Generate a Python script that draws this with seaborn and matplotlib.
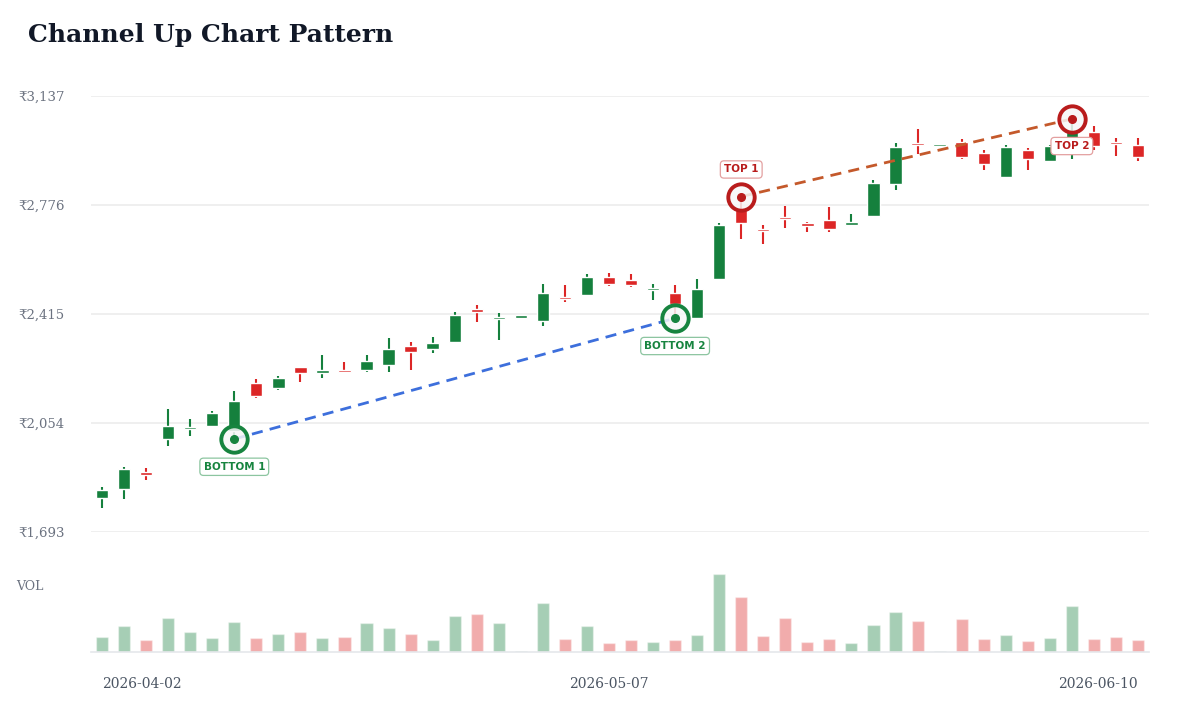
import matplotlib
matplotlib.use("Agg")
import matplotlib.pyplot as plt
import numpy as np
import pandas as pd
import seaborn as sns

# ——— Data ———
opens = [1807, 1838, 1887, 2001, 2034, 2045, 2030, 2187, 2171, 2240, 2222, 2231,
         2231, 2246, 2310, 2301, 2323, 2429, 2398, 2404, 2392, 2471, 2478, 2540,
         2528, 2495, 2487, 2403, 2531, 2759, 2699, 2736, 2716, 2727, 2712, 2741,
         2847, 2981, 2971, 2986, 2948, 2871, 2959, 2922, 2975, 3019, 2986, 2977]
highs = [1842, 1908, 1904, 2100, 2067, 2094, 2160, 2200, 2211, 2240, 2279, 2257,
         2279, 2335, 2321, 2339, 2421, 2445, 2418, 2406, 2515, 2511, 2547, 2551,
         2549, 2513, 2511, 2531, 2716, 2804, 2710, 2774, 2719, 2769, 2745, 2858,
         2981, 3028, 2973, 2995, 2957, 2975, 2966, 2974, 3061, 3039, 2999, 2997]
lows = [1772, 1802, 1866, 1977, 2012, 2041, 2001, 2138, 2162, 2189, 2204, 2223,
        2224, 2222, 2229, 2286, 2323, 2390, 2330, 2403, 2376, 2454, 2476, 2507,
        2503, 2460, 2401, 2402, 2530, 2663, 2648, 2699, 2688, 2686, 2710, 2740,
        2827, 2946, 2970, 2928, 2893, 2869, 2891, 2921, 2930, 2959, 2937, 2922]
closes = [1833, 1902, 1884, 2045, 2038, 2087, 2129, 2144, 2204, 2220, 2229, 2224,
          2259, 2299, 2290, 2321, 2412, 2423, 2407, 2405, 2485, 2465, 2540, 2515,
          2511, 2501, 2448, 2498, 2712, 2719, 2690, 2730, 2707, 2699, 2719, 2849,
          2970, 2975, 2972, 2937, 2913, 2968, 2928, 2972, 3020, 2972, 2979, 2935]
volumes = [147, 257, 123, 340, 200, 137, 303, 143, 177, 197, 143, 147,
           287, 237, 183, 117, 357, 380, 287, 7, 493, 133, 257, 90,
           120, 103, 117, 167, 777, 547, 163, 343, 97, 130, 90, 267,
           397, 310, 5, 327, 130, 167, 110, 140, 460, 133, 150, 117]

price_ticks = [1693, 2054, 2415, 2776, 3137]
date_tick_idx = [0, 23, 47]
date_tick_labels = ["2026-04-02", "2026-05-07", "2026-06-10"]

bottoms = [6, 26]
bottom_labels = ["BOTTOM 1", "BOTTOM 2"]
tops = [29, 44]
top_labels = ["TOP 1", "TOP 2"]

# ——— Style ———
UP = "#15803d"
DOWN = "#dc2626"
RING_UP = "#17843f"
RING_DOWN = "#b91c1c"

sns.set_theme(style="white")
plt.rcParams['font.family'] = ['DejaVu Serif', 'DejaVu Sans']

o = np.array(opens)
c = np.array(closes)
idx = np.arange(len(o))
direction = np.where(c >= o, "up", "down")
colors = [UP if d == "up" else DOWN for d in direction]

fig = plt.figure(figsize=(12, 7.2), dpi=100)
ax = fig.add_axes([91 / 1200, 1 - 532 / 720, 1058 / 1200, 436 / 720])
axv = fig.add_axes([91 / 1200, 1 - 652 / 720, 1058 / 1200, 92 / 720])

# ——— Candles ———
ax.vlines(idx, lows, highs, colors=colors, lw=1.5, zorder=2)
ax.bar(idx, np.maximum(np.abs(c - o), 8), bottom=np.minimum(o, c) - 1,
       width=0.56, color=colors, zorder=3)

# ——— Channel lines ———
ax.plot(bottoms, [lows[i] for i in bottoms], ls=(0, (4, 2.6)), lw=2.0,
        color="#3d6fdc", zorder=4)
ax.plot(tops, [highs[i] for i in tops], ls=(0, (4, 2.6)), lw=2.0,
        color="#c4592b", zorder=4)

def mark(i, y, ring, label, dy, edge):
    ax.plot(i, y, marker="o", ms=19, mew=2.8, mec=ring,
            mfc=(0.97, 0.97, 0.97, 0.85), zorder=6)
    ax.plot(i, y, marker="o", ms=5.5, color=ring, zorder=7)
    ax.annotate(label, (i, y), xytext=(0, dy), textcoords="offset points",
                ha="center", va="center", fontsize=7.5, fontweight="bold",
                color=ring, family="DejaVu Sans", zorder=8,
                bbox=dict(boxstyle="round,pad=0.35,rounding_size=0.35",
                          fc="white", ec=edge, lw=0.9))

for i, lab in zip(bottoms, bottom_labels):
    mark(i, lows[i], RING_UP, lab, -20, "#8cc5a0")
for i, lab, dy in zip(tops, top_labels, [19.5, -19.5]):
    mark(i, highs[i], RING_DOWN, lab, dy, "#e3a0a0")

ax.set_xlim(-0.5, len(o) - 0.5)
ax.set_ylim(price_ticks[0], price_ticks[-1])
ax.set_yticks(price_ticks)
ax.set_yticklabels([f"₹{t:,}" for t in price_ticks])
ax.set_xticks([])
ax.tick_params(axis="y", length=0, pad=19, labelsize=9.5, labelcolor="#6b7280")
ax.grid(axis="y", color="#ececec", lw=1.2)
ax.set_axisbelow(True)
for s in ax.spines.values():
    s.set_visible(False)

# ——— Volume ———
vdf = pd.DataFrame({"idx": idx, "vol": volumes, "dir": direction})
sns.barplot(data=vdf, x="idx", y="vol", hue="dir", native_scale=True,
            palette={"up": UP, "down": DOWN}, dodge=False, width=0.55,
            alpha=0.38, saturation=1, legend=False, ax=axv)
axv.set_xlim(-0.5, len(o) - 0.5)
axv.set_ylim(0, max(volumes) * 1.18)
axv.set_yticks([])
axv.set_xlabel("")
axv.set_ylabel("")
axv.set_xticks(date_tick_idx)
axv.set_xticklabels(date_tick_labels)
for lbl, ha in zip(axv.get_xticklabels(), ["left", "center", "right"]):
    lbl.set_ha(ha)
axv.tick_params(axis="x", length=0, pad=18, labelsize=10, labelcolor="#4b5563")
for name, s in axv.spines.items():
    s.set_visible(name == "bottom")
axv.spines["bottom"].set_color("#e5e7eb")
axv.spines["bottom"].set_linewidth(1.2)

fig.text(28 / 1200, 1 - 35 / 720, "Channel Up Chart Pattern", fontsize=18,
         fontweight="bold", color="#111827", ha="left", va="center")
fig.text(16 / 1200, 1 - 587 / 720, "VOL", fontsize=9, color="#6b7280",
         ha="left", va="center")

fig.savefig("out.png", dpi=100)
